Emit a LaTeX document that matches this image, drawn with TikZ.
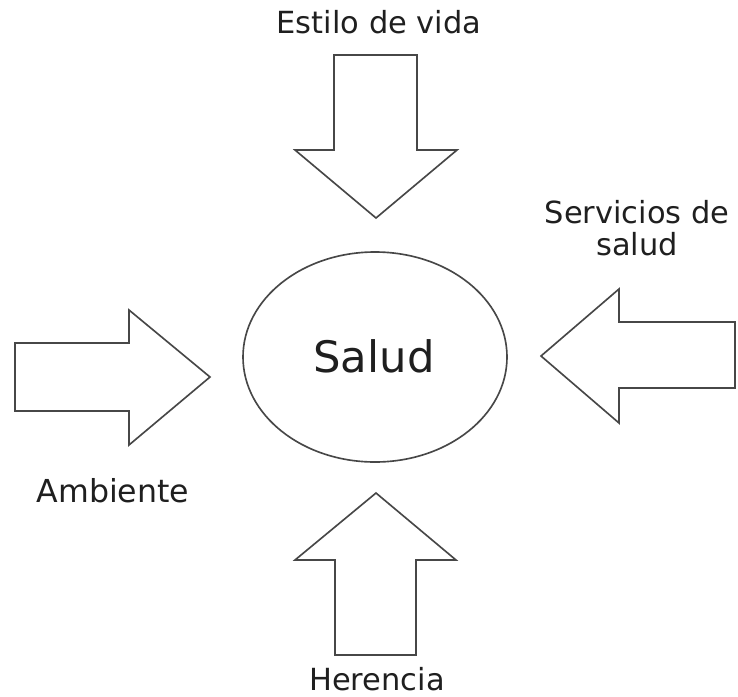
\documentclass[tikz,border=0pt]{standalone}
\usepackage{fontspec}
\setmainfont{DejaVu Sans}
\begin{document}
\begin{tikzpicture}[x=0.03cm,y=-0.03cm,
  blk/.style={draw=black!72,line width=1.4pt,line join=miter,fill=white},
  lbl/.style={anchor=base,inner sep=0pt,font=\fontsize{26pt}{30pt}\selectfont,text=black!88},
  big/.style={anchor=base,inner sep=0pt,font=\fontsize{37pt}{44pt}\selectfont,text=black!88}]
\useasboundingbox (0,0) rectangle (738,696);
% central ellipse
\draw[blk] (375,357) ellipse [x radius=132, y radius=105];
\node[big] (salud) at (374,372) {Salud};
% top arrow (down)
\draw[blk] (334,55) -- (417,55) -- (417,150) -- (457,150) -- (376,218) -- (295,150) -- (334,150) -- cycle;
% left arrow (right)
\draw[blk] (15,343) -- (129,343) -- (129,310) -- (210,377) -- (129,445) -- (129,411) -- (15,411) -- cycle;
% right arrow (left)
\draw[blk] (735,322) -- (619,322) -- (619,289) -- (541,356) -- (619,423) -- (619,388) -- (735,388) -- cycle;
% bottom arrow (up)
\draw[blk] (335,655) -- (335,560) -- (295,560) -- (376,493) -- (456,560) -- (416,560) -- (416,655) -- cycle;
% labels
\node[lbl] (estilo) at (379,33) {Estilo de vida};
\node[lbl] (serv1) at (637,223) {Servicios de};
\node[lbl] (serv2) at (637,255) {salud};
\node[lbl,font=\fontsize{27pt}{31pt}\selectfont] (amb) at (113,502) {Ambiente};
\node[lbl] (her) at (377,690) {Herencia};
\end{tikzpicture}
\end{document}
